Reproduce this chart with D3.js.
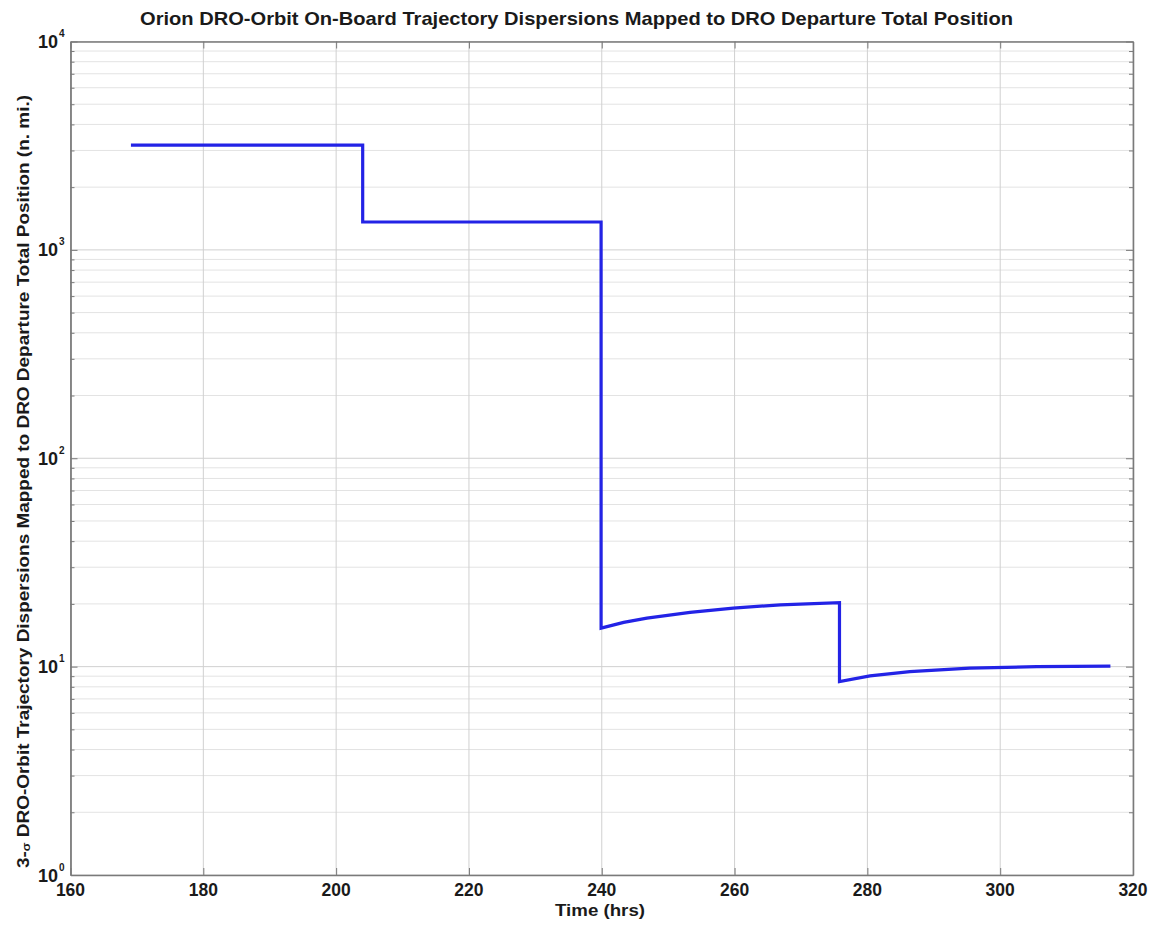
<!DOCTYPE html>
<html>
<head>
<meta charset="utf-8">
<script src="https://cdn.jsdelivr.net/npm/d3@7"></script>
<style>
  html, body { margin: 0; padding: 0; background: #ffffff; }
  svg { display: block; font-family: "Liberation Sans", Arial, Helvetica, sans-serif; }
</style>
</head>
<body>
<svg id="chart" width="1151" height="929"></svg>
<script>
// ---- Data ----
const timeHrs = [169.1, 204.0, 204.0, 239.9, 239.9, 243.3, 246.8, 253.3, 259.8, 266.9, 275.8, 275.8, 280.4, 286.4, 295.4, 305.5, 316.6];
const dispersionNmi = [3185, 3185, 1361, 1361, 15.3, 16.3, 17.1, 18.2, 19.1, 19.8, 20.3, 8.47, 9.02, 9.46, 9.83, 10.0, 10.05];
const xTicks = [160, 180, 200, 220, 240, 260, 280, 300, 320];
const yDecades = [1, 10, 100, 1000, 10000];
const xDomain = [160, 320];
const yDomain = [1, 10000];
const titleText = "Orion DRO-Orbit On-Board Trajectory Dispersions Mapped to DRO Departure Total Position";
const xLabelText = "Time (hrs)";
const yLabelText = ["3-", "σ", " DRO-Orbit Trajectory Dispersions Mapped to DRO Departure Total Position (n. mi.)"];

// ---- Layout ----
const svg = d3.select("#chart");
const plot = { left: 70.5, right: 1133, top: 41.5, bottom: 875 };

const x = d3.scaleLinear().domain(xDomain).range([plot.left, plot.right]);
const y = d3.scaleLog().domain(yDomain).range([plot.bottom, plot.top]);

// minor values for log axis
const yMinor = [];
for (let i = 0; i < yDecades.length - 1; i++) {
  for (let k = 2; k <= 9; k++) yMinor.push(yDecades[i] * k);
}

const g = svg.append("g");

// minor grid
g.append("g").selectAll("line").data(yMinor).join("line")
  .attr("x1", plot.left).attr("x2", plot.right)
  .attr("y1", d => y(d)).attr("y2", d => y(d))
  .attr("stroke", "#e3e3e3").attr("stroke-width", 1);

// major grid
g.append("g").selectAll("line").data(yDecades).join("line")
  .attr("x1", plot.left).attr("x2", plot.right)
  .attr("y1", d => y(d)).attr("y2", d => y(d))
  .attr("stroke", "#d0d0d0").attr("stroke-width", 1);
g.append("g").selectAll("line").data(xTicks).join("line")
  .attr("x1", d => x(d)).attr("x2", d => x(d))
  .attr("y1", plot.top).attr("y2", plot.bottom)
  .attr("stroke", "#d0d0d0").attr("stroke-width", 1);

// axes (ticks pointing inward)
const axisColor = "#7a7a7a";
const bottomAxis = d3.axisBottom(x).tickValues(xTicks).tickSizeInner(-7).tickSizeOuter(0).tickFormat("");
const topAxis = d3.axisTop(x).tickValues(xTicks).tickSizeInner(-7).tickSizeOuter(0).tickFormat("");
const leftAxis = d3.axisLeft(y).tickValues(yDecades).tickSizeInner(-7).tickSizeOuter(0).tickFormat("");
const rightAxis = d3.axisRight(y).tickValues(yDecades).tickSizeInner(-7).tickSizeOuter(0).tickFormat("");
const leftMinor = d3.axisLeft(y).tickValues(yMinor).tickSizeInner(-4).tickSizeOuter(0).tickFormat("");
const rightMinor = d3.axisRight(y).tickValues(yMinor).tickSizeInner(-4).tickSizeOuter(0).tickFormat("");

function styleAxis(sel) {
  sel.selectAll("path").attr("stroke", axisColor).attr("stroke-width", 1.3);
  sel.selectAll("line").attr("stroke", axisColor).attr("stroke-width", 1);
}
styleAxis(svg.append("g").attr("transform", `translate(0,${plot.bottom})`).call(bottomAxis));
styleAxis(svg.append("g").attr("transform", `translate(0,${plot.top})`).call(topAxis));
styleAxis(svg.append("g").attr("transform", `translate(${plot.left},0)`).call(leftAxis));
styleAxis(svg.append("g").attr("transform", `translate(${plot.right},0)`).call(rightAxis));
styleAxis(svg.append("g").attr("transform", `translate(${plot.left},0)`).call(leftMinor));
styleAxis(svg.append("g").attr("transform", `translate(${plot.right},0)`).call(rightMinor));

// data line
const pts = timeHrs.map((t, i) => [t, dispersionNmi[i]]);
const line = d3.line().x(d => x(d[0])).y(d => y(d[1]));
svg.append("path").datum(pts)
  .attr("d", line)
  .attr("fill", "none")
  .attr("stroke", "#2323e6")
  .attr("stroke-width", 3.2)
  .attr("stroke-linejoin", "miter");

// x tick labels
svg.append("g").selectAll("text").data(xTicks).join("text")
  .attr("x", d => x(d)).attr("y", 896)
  .attr("text-anchor", "middle")
  .attr("font-size", 17.5).attr("font-weight", "bold").attr("fill", "#1a1a1a")
  .text(d => d);

// y tick labels: 10^n
const yl = svg.append("g").selectAll("text").data(yDecades).join("text")
  .attr("x", 38).attr("y", d => y(d) + 6.5)
  .attr("text-anchor", "start")
  .attr("font-size", 18).attr("font-weight", "bold").attr("fill", "#1a1a1a");
yl.append("tspan").text("10");
yl.append("tspan").attr("dx", 1).attr("dy", -11).attr("font-size", 10).text(d => Math.round(Math.log10(d)));

// title
svg.append("text")
  .attr("x", 576.5).attr("y", 25)
  .attr("text-anchor", "middle")
  .attr("font-size", 18.5).attr("font-weight", "bold").attr("fill", "#1a1a1a")
  .attr("textLength", 873).attr("lengthAdjust", "spacingAndGlyphs")
  .text(titleText);

// x label
svg.append("text")
  .attr("x", 600).attr("y", 916)
  .attr("text-anchor", "middle")
  .attr("font-size", 16).attr("font-weight", "bold").attr("fill", "#1a1a1a")
  .attr("textLength", 90).attr("lengthAdjust", "spacingAndGlyphs")
  .text(xLabelText);

// y label
const ylab = svg.append("text")
  .attr("transform", `translate(29,481.5) rotate(-90)`)
  .attr("text-anchor", "middle")
  .attr("font-size", 16.5).attr("font-weight", "bold").attr("fill", "#1a1a1a")
  .attr("textLength", 773).attr("lengthAdjust", "spacingAndGlyphs");
ylab.append("tspan").text(yLabelText[0]);
ylab.append("tspan").attr("font-size", 11).attr("dy", 1).text(yLabelText[1]);
ylab.append("tspan").attr("dy", -1).text(yLabelText[2]);
</script>
</body>
</html>
